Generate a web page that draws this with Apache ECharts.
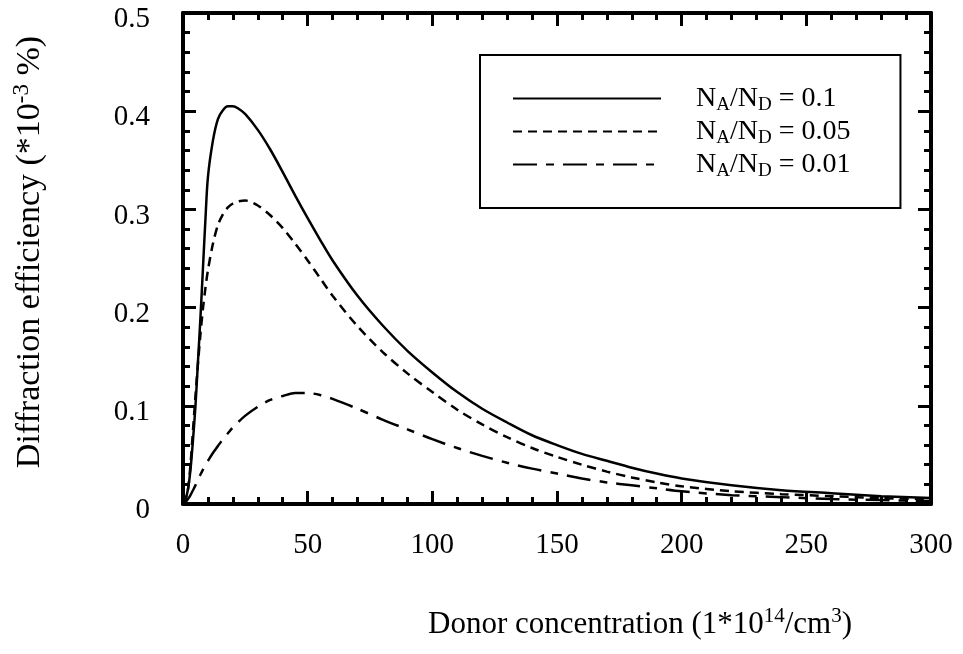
<!DOCTYPE html>
<html>
<head>
<meta charset="utf-8">
<script src="https://cdn.jsdelivr.net/npm/echarts@6/dist/echarts.min.js"></script>
<style>
  html, body { margin: 0; padding: 0; background: #fff; }
  #main { width: 963px; height: 654px; }
</style>
</head>
<body>
<div id="main"></div>
<script>
// donor concentration (1e14 /cm3)
const donor = [0, 1, 2, 3, 4, 5, 6, 7, 8, 9, 10, 12, 14, 16, 18, 20, 22, 25, 30, 35, 40, 45, 50, 55, 60,
  70, 80, 90, 100, 110, 120, 130, 140, 150, 160, 170, 180, 190, 200, 220, 240, 260, 280, 300]

// diffraction efficiency (*1e-3 %)
const eff010 = [0, 0.005, 0.015, 0.035, 0.065, 0.1, 0.145, 0.19, 0.24, 0.29, 0.333, 0.37, 0.392, 0.401, 0.405, 0.405, 0.403, 0.397, 0.381, 0.361, 0.338, 0.314, 0.291, 0.269, 0.248,
  0.212, 0.182, 0.156, 0.134, 0.114, 0.097, 0.083, 0.07, 0.06, 0.051, 0.044, 0.037, 0.031, 0.026, 0.019, 0.014, 0.011, 0.008, 0.006]
const eff005 = [0, 0.005, 0.015, 0.04, 0.075, 0.11, 0.143, 0.173, 0.199, 0.22, 0.238, 0.265, 0.284, 0.295, 0.302, 0.306, 0.308, 0.309, 0.304, 0.294, 0.281, 0.265, 0.248, 0.23, 0.212,
  0.181, 0.155, 0.133, 0.114, 0.096, 0.081, 0.068, 0.057, 0.048, 0.04, 0.033, 0.027, 0.022, 0.018, 0.013, 0.01, 0.008, 0.006, 0.005]
const eff001 = [0, 0.002, 0.005, 0.009, 0.014, 0.019, 0.025, 0.03, 0.035, 0.04, 0.044, 0.052, 0.059, 0.066, 0.072, 0.078, 0.083, 0.09, 0.099, 0.106, 0.11, 0.113, 0.113, 0.111, 0.107,
  0.097, 0.086, 0.076, 0.066, 0.057, 0.049, 0.042, 0.036, 0.031, 0.026, 0.022, 0.019, 0.016, 0.013, 0.009, 0.007, 0.005, 0.004, 0.003]

const ratios = ['0.1', '0.05', '0.01']
const xTicks = { min: 0, max: 300, step: 50 }
const yTicks = { min: 0, max: 0.5, step: 0.1 }

const FONT = '"Liberation Serif", "Times New Roman", serif'

let chart = echarts.init(document.getElementById('main'))

function pairs(ys) {
  return donor.map((x, i) => [x, ys[i]])
}

function xAxisOf(pos, showLabel) {
  return {
    type: 'value',
    position: pos,
    min: xTicks.min, max: xTicks.max, interval: xTicks.step,
    axisLine: { show: true, onZero: false, lineStyle: { color: '#000', width: 4 } },
    axisTick: { show: true, inside: true, length: 13, lineStyle: { color: '#000', width: 3 } },
    minorTick: { show: true, splitNumber: 5, length: 7, lineStyle: { color: '#000', width: 3 } },
    axisLabel: { show: showLabel, color: '#000', fontFamily: FONT, fontSize: 29, margin: 27 },
    splitLine: { show: false },
  }
}

function yAxisOf(pos, showLabel) {
  return {
    type: 'value',
    position: pos,
    min: yTicks.min, max: yTicks.max, interval: yTicks.step,
    axisLine: { show: true, onZero: false, lineStyle: { color: '#000', width: 4 } },
    axisTick: { show: true, inside: true, length: 13, lineStyle: { color: '#000', width: 3 } },
    minorTick: { show: true, splitNumber: 5, length: 7, lineStyle: { color: '#000', width: 3 } },
    axisLabel: {
      show: showLabel, color: '#000', margin: 33,
      formatter: v => '{v|' + v + '}',
      rich: { v: { fontFamily: FONT, fontSize: 29, color: '#000', padding: [13, 0, 0, 0] } },
    },
    splitLine: { show: false },
  }
}

const dashes = ['solid', [9, 6], [24, 9, 8, 9]]
const series = [eff010, eff005, eff001].map((ys, i) => ({
  name: 'NA/ND = ' + ratios[i],
  type: 'line',
  xAxisIndex: 0,
  yAxisIndex: 0,
  data: pairs(ys),
  symbol: 'none',
  smooth: 0.3,
  lineStyle: { color: '#000', width: 2.5, type: dashes[i] },
  itemStyle: { color: '#000' },
}))

chart.setOption({
  animation: false,
  backgroundColor: '#fff',
  grid: { left: 183, top: 13, width: 748, height: 491 },
  xAxis: [xAxisOf('bottom', true), xAxisOf('top', false)],
  yAxis: [yAxisOf('left', true), yAxisOf('right', false)],
  legend: {
    orient: 'vertical',
    left: 480,
    top: 55,
    selectedMode: false,
    borderColor: '#000',
    borderWidth: 2,
    borderRadius: 0,
    padding: [27, 50, 27, 32],
    itemWidth: 148,
    itemHeight: 14,
    itemGap: 0,
    itemStyle: { opacity: 0 },
    formatter: function (name) {
      let v = name.split('= ')[1]
      return '{f|N}{s|A}{n|/N}{s|D}{n| = ' + v + '}'
    },
    textStyle: {
      color: '#000',
      fontFamily: FONT,
      rich: {
        f: { fontFamily: FONT, fontSize: 28, lineHeight: 28, color: '#000', padding: [0, 0, 0, 30] },
        n: { fontFamily: FONT, fontSize: 28, lineHeight: 28, color: '#000' },
        s: { fontFamily: FONT, fontSize: 19, lineHeight: 19, color: '#000', padding: [14, 0, 0, 0] },
      },
    },
    data: series.map(s => s.name),
  },
  graphic: [
    {
      type: 'text',
      left: 428,
      top: 606,
      style: {
        text: '{n|Donor concentration (1*10}{s|14}{n|/cm}{s|3}{n|)}',
        rich: {
          n: { fontFamily: FONT, fontSize: 31, lineHeight: 31, fill: '#000' },
          s: { fontFamily: FONT, fontSize: 21, lineHeight: 21, fill: '#000', padding: [0, 0, 16, 0] },
        },
      },
    },
    {
      type: 'text',
      x: 30,
      y: 252,
      rotation: Math.PI / 2,
      style: {
        text: '{n|Diffraction efficiency (*10}{s|-3}{n| %)}',
        align: 'center',
        verticalAlign: 'middle',
        rich: {
          n: { fontFamily: FONT, fontSize: 34, lineHeight: 34, fill: '#000' },
          s: { fontFamily: FONT, fontSize: 23, lineHeight: 23, fill: '#000', padding: [0, 0, 16, 0] },
        },
      },
    },
  ],
  series: series,
})
</script>
</body>
</html>
